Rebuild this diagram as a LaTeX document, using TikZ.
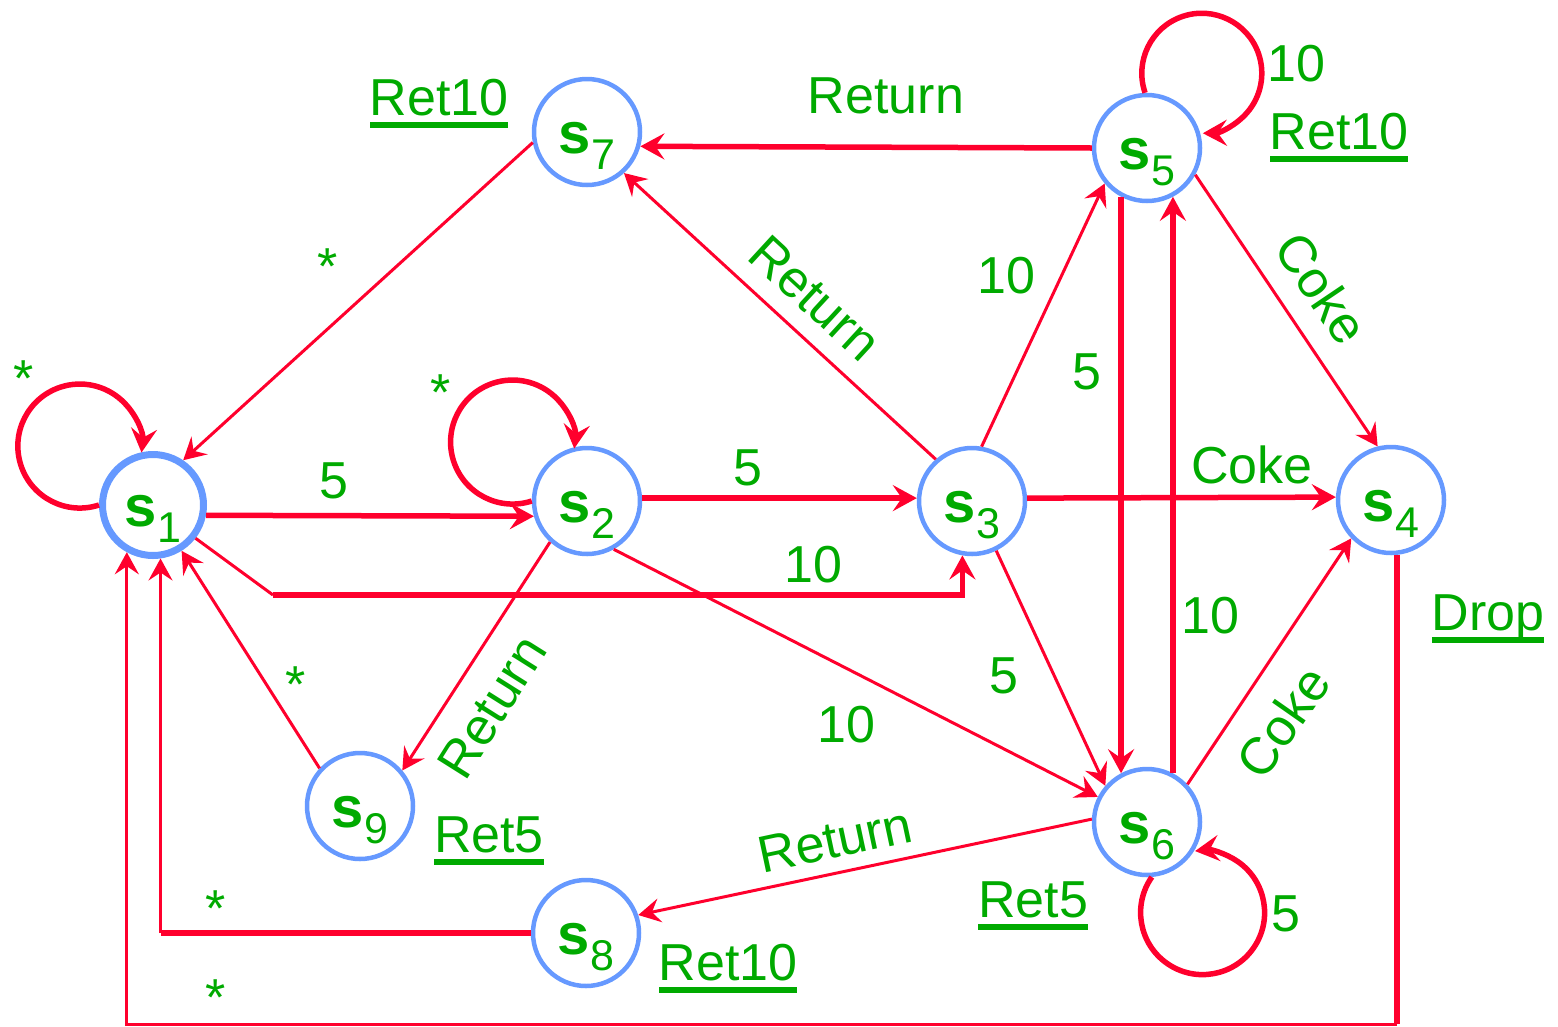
\documentclass[tikz,border=0pt]{standalone}
\usepackage{fontspec}
\setmainfont{Liberation Sans}
\usetikzlibrary{arrows.meta}

\definecolor{edgered}{RGB}{255,0,45}
\definecolor{lblgreen}{RGB}{0,170,0}
\definecolor{ringblue}{RGB}{102,153,255}

% state name: bold s with lowered index
\newcommand{\stname}[1]{{\fontsize{58}{60}\selectfont\bfseries s}\raisebox{-16pt}{\fontsize{43}{45}\selectfont #1}}
% output of a state, underlined
\newcommand{\outlbl}[1]{\setbox0\hbox{#1}\rlap{\rule[-13pt]{\wd0}{6pt}}\box0}

\tikzset{
  state/.style={circle,draw=ringblue,line width=4.5pt,minimum size=106pt,inner sep=0pt,
    text=lblgreen,text height=50pt,text depth=8pt},
  lbl/.style={text=lblgreen,font=\fontsize{52}{60}\selectfont,inner sep=0pt},
  thickline/.style={draw=edgered,line width=5.5pt},
  thinline/.style={draw=edgered,line width=3pt},
  thickedge/.style={thickline,-{Stealth[length=24pt,width=26pt,inset=9pt]}},
  thinedge/.style={thinline,-{Stealth[length=22pt,width=24pt,inset=8pt]}},
}

\begin{document}
\begin{tikzpicture}[x=1pt,y=-1pt]
  \useasboundingbox (0,0) rectangle (1558,1026);

  % States
  \node[state,line width=7pt,minimum size=101pt] (s1) at (153,505) {\stname{1}};
  \foreach \n/\x/\y in {2/587/501, 3/972/501, 4/1391/500, 5/1147/148,
                        6/1147/822, 7/587/132, 8/586/933, 9/360/806}
    \node[state] (s\n) at (\x,\y) {\stname{\n}};

  % Bends
  \coordinate (c13) at (273,595);
  \coordinate (c81) at (s1.-82 |- s8.west);
  \coordinate (c41) at (s4.-84 |- 0,1024);

  % Self loops
  \draw[thickedge] (s1.180) arc[start angle=72,end angle=366,radius=62];
  \draw[thickedge] (s2.180) arc[start angle=72,end angle=366,radius=62];
  \draw[thickedge] (s5.92) arc[start angle=161,end angle=449,radius=60];
  \draw[thickedge] (s6.-85) arc[start angle=215,end angle=-97,radius=62];

  % Transitions
  \draw[thickedge] (s1.-11) -- (s2.196);
  \draw[thickedge] (s2.3) -- (s3.177);
  \draw[thickedge] (s3.3) -- (s4.177);
  \draw[thickedge] (s5.west) -- (s7.-15);
  \draw[thickedge] (s5.-118) -- (s6.118);
  \draw[thickedge] (s6.62) -- (s5.-62);
  \draw[thinline] (s1.-38) -- (c13);
  \draw[thickedge] (c13) -| (s3.-100);
  \draw[thinedge] (s2.-132) -- (s9.40);
  \draw[thinedge] (s2.-61) -- (s6.153);
  \draw[thinedge] (s3.131) -- (s7.-48);
  \draw[thinedge] (s3.80) -- (s5.-140);
  \draw[thinedge] (s3.-64) -- (s6.139);
  \draw[thinedge] (s5.-29) -- (s4.104);
  \draw[thinedge] (s6.43) -- (s4.-136);
  \draw[thinedge] (s6.177) -- (s8.19);
  \draw[thinedge] (s9.137) -- (s1.-58);
  \draw[thinedge] (s7.191) -- (s1.56);
  \draw[thickline] (s8.west) -- (c81);
  \draw[thinedge] (c81) -- (s1.-82);
  \draw[thickline] (s4.-84) -- (c41);
  \draw[thinedge] (c41) -| (s1.-119);

  % Inputs
  \foreach \n/\x/\y/\t in {12/334/498/5, 23/748/485/5, 13/813/582/10,
      35/1006/293/10, 56/1087/389/5, 65/1210/633/10, 36/1004/693/5,
      26/846/742/10, 34/1252/483/Coke, 57/886/113/Return,
      55/1296/81/10, 66/1286/931/5}
    \node[lbl,anchor=base] (l\n) at (\x,\y) {\t};
  \foreach \n/\x/\y in {11/24/396, 22/441/410, 71/328/284,
      91/296/702, 81/216/926, 41/216/1015}
    \node[lbl,anchor=base] (st\n) at (\x,\y) {*};
  \node[lbl,rotate=-42.6] (r37) at (815,298) {Return};
  \node[lbl,rotate=57.8] (r29) at (492,707) {Return};
  \node[lbl,rotate=12] (r68) at (835,840) {Return};
  \node[lbl,rotate=-56] (r54) at (1322,288) {Coke};
  \node[lbl,rotate=55] (r64) at (1283,722) {Coke};

  % Outputs
  \node[lbl,anchor=base] (o7) at (439,115) {\outlbl{Ret10}};
  \node[lbl,anchor=base] (o5) at (1339,149) {\outlbl{Ret10}};
  \node[lbl,anchor=base] (o4) at (1488,630) {\outlbl{Drop}};
  \node[lbl,anchor=base] (o9) at (489,852) {\outlbl{Ret5}};
  \node[lbl,anchor=base] (o6) at (1033,917) {\outlbl{Ret5}};
  \node[lbl,anchor=base] (o8) at (728,980) {\outlbl{Ret10}};
\end{tikzpicture}
\end{document}
